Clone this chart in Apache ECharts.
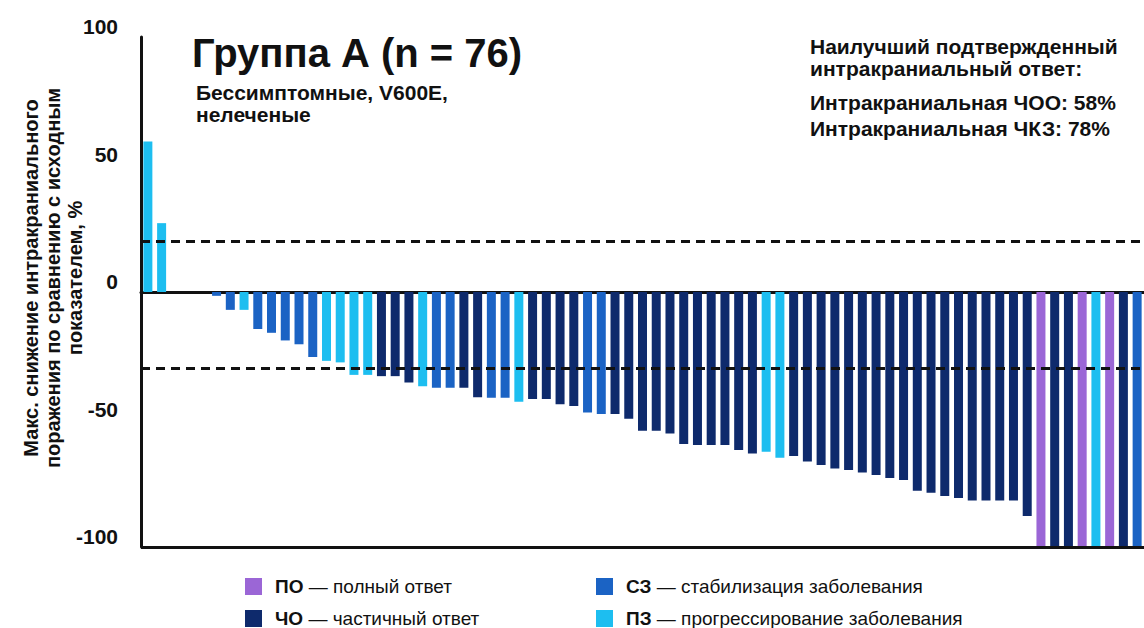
<!DOCTYPE html>
<html>
<head>
<meta charset="utf-8">
<style>
html,body{margin:0;padding:0;background:#fff;}
#chart{width:1144px;height:628px;}
</style>
<script src="https://cdn.jsdelivr.net/npm/echarts@6/dist/echarts.min.js"></script>
</head>
<body>
<div id="chart"></div>
<script>
// ---- data ----
const patients = ['1','2','3','4','5','6','7','8','9','10','11','12','13','14','15','16','17','18','19','20',
  '21','22','23','24','25','26','27','28','29','30','31','32','33','34','35','36','37','38','39','40',
  '41','42','43','44','45','46','47','48','49','50','51','52','53','54','55','56','57','58','59','60',
  '61','62','63','64','65','66','67','68','69','70','71','72','73'];
const change = [59, 27, 0, 0, 0, -1.5, -7, -7, -14.5, -16,
  -19, -20.5, -25.5, -27, -27.6, -32.5, -32.5, -33, -33, -35.5,
  -37, -37.5, -37.5, -37.5, -41.3, -41.5, -41.5, -43, -42, -42,
  -44, -44.7, -47.3, -47.8, -47.8, -49.7, -54.4, -54.4, -55.5, -59.6,
  -60, -60, -60, -62, -63.3, -62.6, -65, -64.3, -66.5, -67.8,
  -69.2, -69.8, -70.8, -71.8, -72.9, -73.7, -77.9, -78.7, -80, -80.8,
  -81.8, -81.8, -81.8, -81.8, -87.8, -100, -100, -100, -100, -100,
  -100, -100, -100];
const response = ['ПЗ','ПЗ','СЗ','СЗ','СЗ','СЗ','СЗ','ПЗ','СЗ','СЗ',
  'СЗ','СЗ','СЗ','ПЗ','ПЗ','ПЗ','ПЗ','ЧО','ЧО','ЧО',
  'ПЗ','СЗ','СЗ','ЧО','ЧО','СЗ','СЗ','ПЗ','ЧО','ЧО',
  'ЧО','ЧО','СЗ','СЗ','ЧО','ЧО','ЧО','ЧО','ЧО','ЧО',
  'ЧО','ЧО','ЧО','ЧО','ЧО','ПЗ','ПЗ','ЧО','ЧО','ЧО',
  'ЧО','ЧО','ЧО','ЧО','ЧО','ЧО','ЧО','ЧО','ЧО','ЧО',
  'ЧО','ЧО','ЧО','ЧО','ЧО','ПО','ЧО','ЧО','ПО','ПЗ',
  'ПО','ЧО','СЗ'];
const responseCodes = ['ПО','ЧО','СЗ','ПЗ'];
const responseNames = ['полный ответ','частичный ответ','стабилизация заболевания','прогрессирование заболевания'];
const thresholds = [20, -30];
const yTicks = [-100, -50, 0, 50, 100];

const colors = {'ПО':'#9B66D6','ЧО':'#0E2A6C','СЗ':'#1B63C4','ПЗ':'#1DBEF0'};
const FONT = '"Liberation Sans", Arial, sans-serif';

const chart = echarts.init(document.getElementById('chart'), null, {renderer:'svg'});

const series = responseCodes.map((code, k) => ({
  name: code,
  type: 'bar',
  barWidth: 9,
  barGap: '-100%',
  itemStyle: {color: colors[code]},
  data: change.map((v, i) => response[i] === code ? v : '-'),
  markLine: k === 0 ? {
    silent: true, symbol: 'none', label: {show: false},
    data: [
      ...thresholds.map(t => ({yAxis: t, lineStyle: {type: [9, 6], color: '#111', width: 3}})),
      {yAxis: yTicks[0], lineStyle: {type: 'solid', color: '#111', width: 3}}
    ]
  } : undefined
}));

const legendFmt = name => '{b|' + name + '}{n| — ' + responseNames[responseCodes.indexOf(name)] + '}';
const legendBase = {
  orient: 'vertical', icon: 'rect', itemWidth: 17, itemHeight: 17, itemGap: 13,
  padding: 0,
  formatter: legendFmt, selectedMode: false,
  textStyle: {rich: {
    b: {fontFamily: FONT, fontSize: 19, fontWeight: 'bold', color: '#111', lineHeight: 18},
    n: {fontFamily: FONT, fontSize: 19, color: '#111', lineHeight: 18}
  }, padding: [0,0,0,8]}
};

chart.setOption({
  backgroundColor: '#fff',
  animation: false,
  grid: {left: 141, right: -2, top: 37, bottom: 81},
  title: [
    {text: 'Группа А (n = 76)', left: 187, top: 28,
     textStyle: {fontFamily: FONT, fontSize: 40, fontWeight: 'bold', color: '#111'}},
    {text: 'Бессимптомные, V600E,\nнелеченые', left: 191, top: 76,
     textStyle: {fontFamily: FONT, fontSize: 21, fontWeight: 'bold', color: '#111', lineHeight: 22}},
    {text: 'Наилучший подтвержденный\nинтракраниальный ответ:', left: 805, top: 30,
     textStyle: {fontFamily: FONT, fontSize: 21, fontWeight: 'bold', color: '#111', lineHeight: 22}},
    {text: 'Интракраниальная ЧОО: 58%\nИнтракраниальная ЧКЗ: 78%', left: 805, top: 84,
     textStyle: {fontFamily: FONT, fontSize: 21, fontWeight: 'bold', color: '#111', lineHeight: 26}}
  ],
  legend: [
    Object.assign({}, legendBase, {data: ['ПО','ЧО'], left: 245, top: 577}),
    Object.assign({}, legendBase, {data: ['СЗ','ПЗ'], left: 596, top: 577})
  ],
  graphic: [{
    type: 'text', x: 53, y: 278, rotation: Math.PI / 2,
    style: {
      text: 'Макс. снижение интракраниального\nпоражения по сравнению с исходным\nпоказателем, %',
      fontFamily: FONT, fontSize: 20, fontWeight: 'bold', fill: '#111',
      align: 'center', verticalAlign: 'middle', lineHeight: 22
    }
  }],
  xAxis: {
    type: 'category', data: patients,
    axisLine: {onZero: true, lineStyle: {color: '#111', width: 3}},
    axisTick: {show: false}, axisLabel: {show: false}, splitLine: {show: false}
  },
  yAxis: {
    type: 'value', min: yTicks[0], max: yTicks[yTicks.length - 1], interval: 50,
    axisLine: {show: true, lineStyle: {color: '#111', width: 3}},
    axisTick: {show: false}, splitLine: {show: false},
    axisLabel: {fontFamily: FONT, fontSize: 21, fontWeight: 'bold', color: '#111',
      margin: 23, verticalAlign: 'bottom'}
  },
  series: series
});
</script>
</body>
</html>
